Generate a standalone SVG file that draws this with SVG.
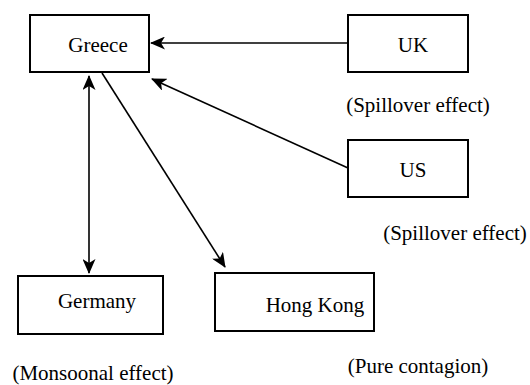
<svg xmlns="http://www.w3.org/2000/svg" width="530" height="385" viewBox="0 0 530 385">
<style>
.box{fill:#fff;stroke:#000;stroke-width:2}
.t{font-family:"Liberation Serif","Times New Roman",serif;font-size:21px;fill:#000;text-anchor:middle}
.c{stroke:#000;stroke-width:1.6;fill:none}
</style>
<defs>
<marker id="ah" viewBox="0 0 15 13" refX="14" refY="6.5" markerWidth="15" markerHeight="13" markerUnits="userSpaceOnUse" orient="auto-start-reverse">
<path d="M0,0 L15,6.5 L0,13 L4,6.5 Z" fill="#000"/>
</marker>
</defs>
<rect width="530" height="385" fill="#fff"/>
<g id="connectors">
<line class="c" x1="348" y1="43" x2="151" y2="43" marker-end="url(#ah)"/>
<line class="c" x1="348" y1="168" x2="152" y2="79" marker-end="url(#ah)"/>
<line class="c" x1="89" y1="76" x2="89" y2="273" marker-start="url(#ah)" marker-end="url(#ah)"/>
<line class="c" x1="102" y1="73" x2="225" y2="267" marker-end="url(#ah)"/>
</g>
<g id="greece"><rect class="box" x="30" y="15" width="119" height="57"/><text class="t" x="98" y="52">Greece</text></g>
<g id="uk"><rect class="box" x="348" y="15" width="120" height="57"/><text class="t" x="413" y="52">UK</text></g>
<g id="us"><rect class="box" x="348" y="140" width="120" height="57"/><text class="t" x="413" y="177">US</text></g>
<g id="germany"><rect class="box" x="18" y="276" width="145" height="58"/><text class="t" x="97" y="308">Germany</text></g>
<g id="hongkong"><rect class="box" x="215" y="273" width="159" height="58"/><text class="t" x="315" y="312">Hong Kong</text></g>
<text class="t" x="418" y="112">(Spillover effect)</text>
<text class="t" x="455" y="240">(Spillover effect)</text>
<text class="t" x="93" y="380">(Monsoonal effect)</text>
<text class="t" x="418" y="373">(Pure contagion)</text>
</svg>
